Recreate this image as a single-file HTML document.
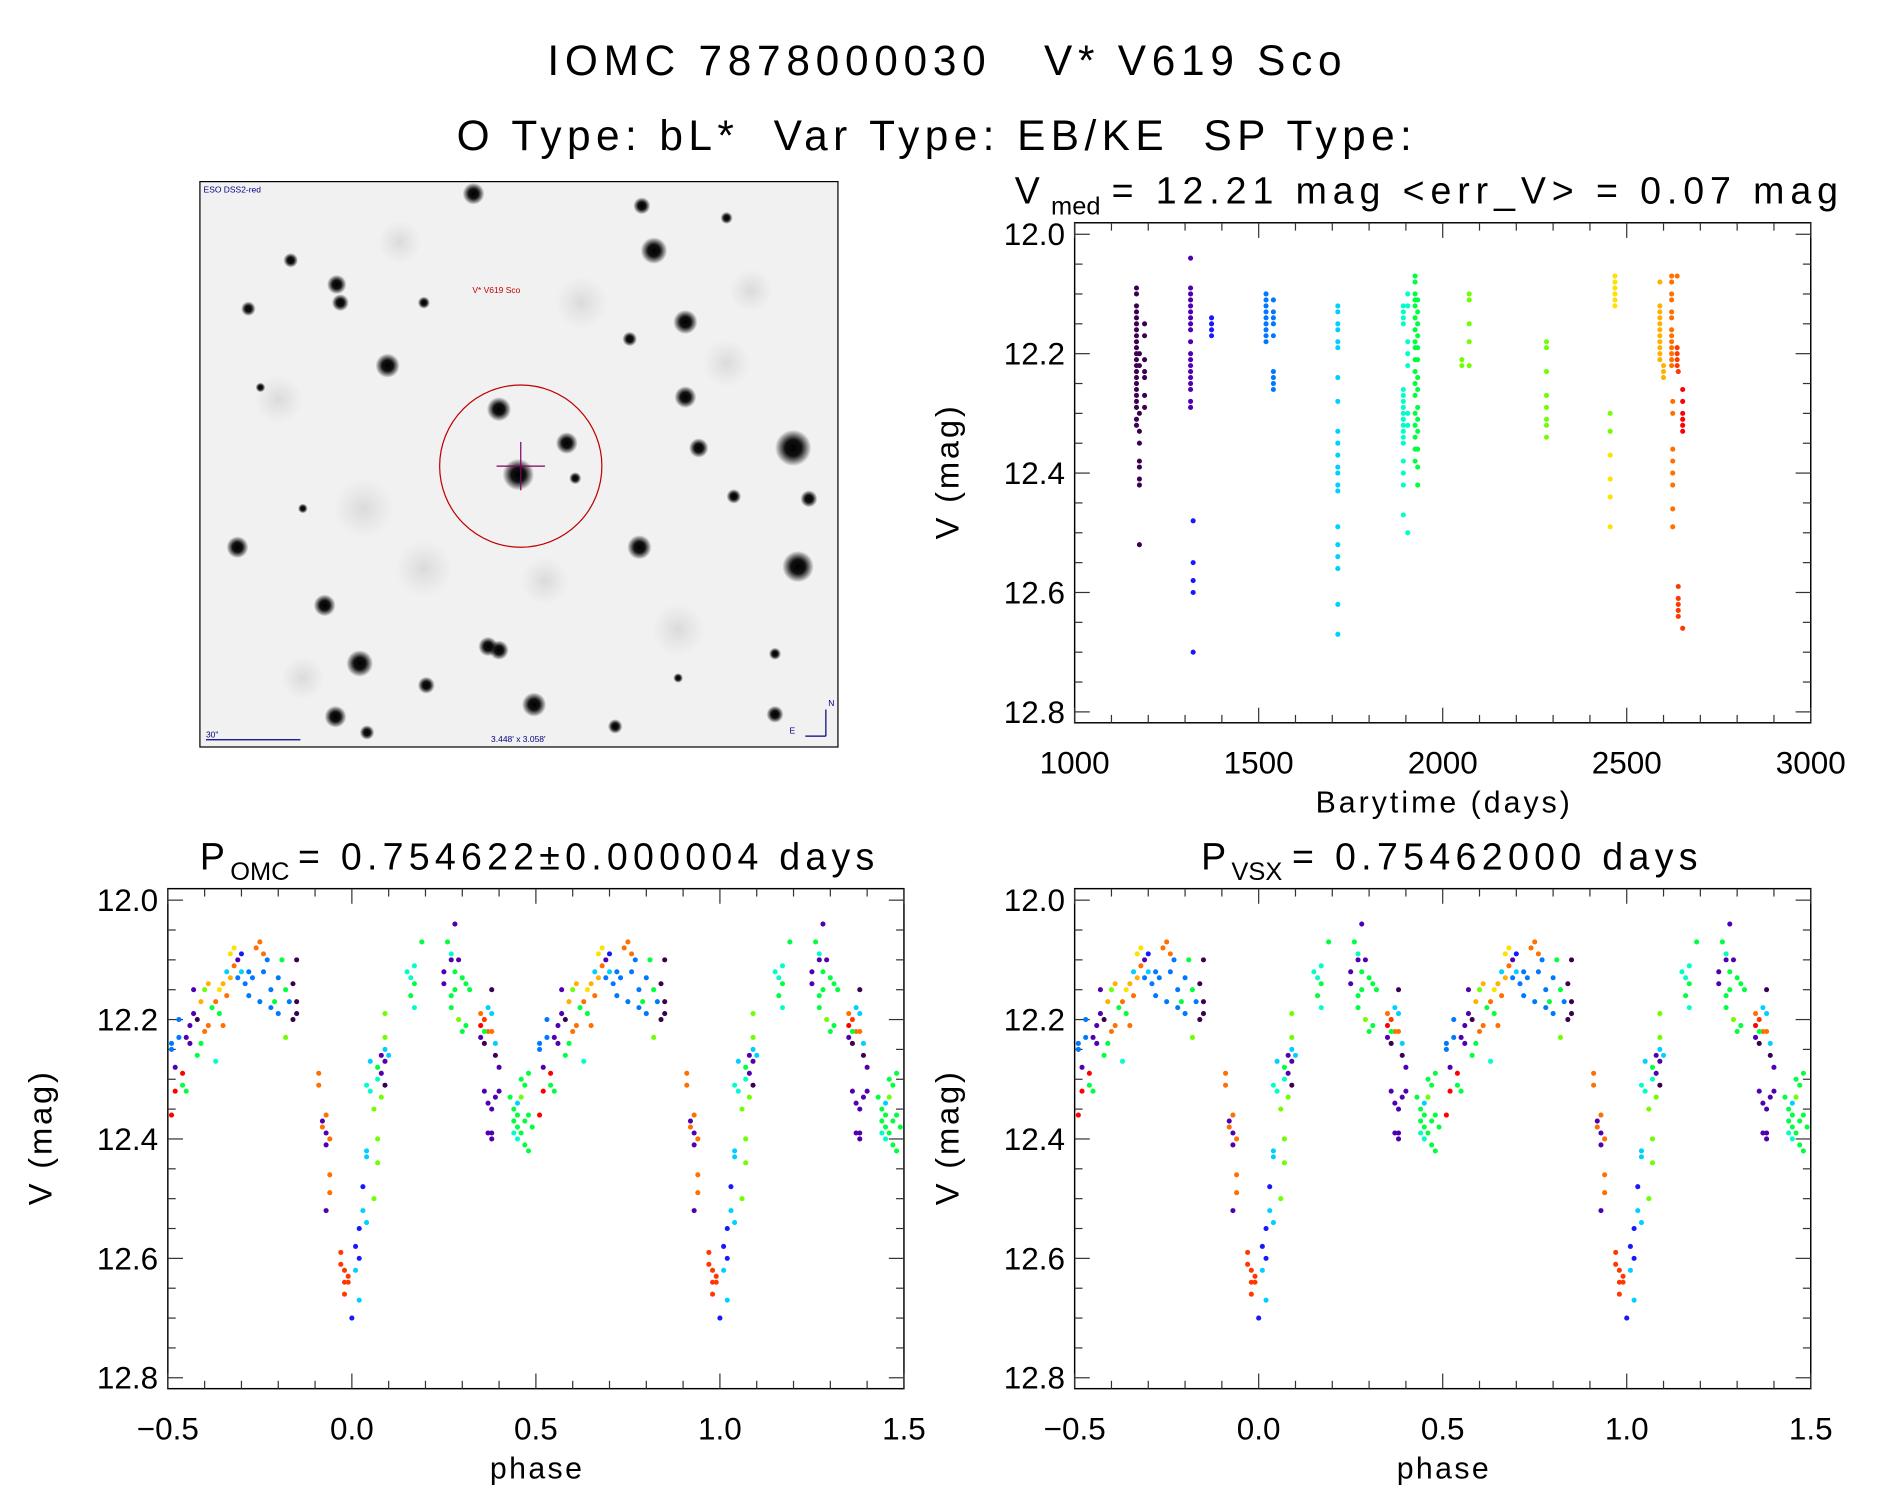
<!DOCTYPE html>
<html><head><meta charset="utf-8"><style>
html,body{margin:0;padding:0;background:#fff;}
svg{display:block;}
text{font-family:"Liberation Sans",sans-serif;fill:#000;}
</style></head><body>
<svg id="root" width="1889" height="1494" viewBox="0 0 1560 1234" xmlns="http://www.w3.org/2000/svg">
<defs>
<radialGradient id="star"><stop offset="0" stop-color="#000"/><stop offset="0.45" stop-color="#111"/><stop offset="1" stop-color="#000" stop-opacity="0"/></radialGradient>
<radialGradient id="blot"><stop offset="0" stop-color="#c4c4c4" stop-opacity="0.5"/><stop offset="1" stop-color="#ccc" stop-opacity="0"/></radialGradient>
</defs>
<text x="452" y="62" font-size="35" textLength="656" lengthAdjust="spacing" xml:space="preserve">IOMC 7878000030   V* V619 Sco</text>
<text x="377" y="124" font-size="35" textLength="789" lengthAdjust="spacing" xml:space="preserve">O Type: bL*  Var Type: EB/KE  SP Type:</text>
<g id="img"></g>
<g id="p1"></g>
<g id="p2"></g>
<g id="p3"></g>
</svg>
<script>
const NS="http://www.w3.org/2000/svg";
const palette=["#3c0050","#5000b0","#1818ff","#0078ff","#00d0ff","#00ffc8","#00ff40","#70ff00","#ffe000","#ffb000","#ff7000","#ff3800","#ff0000"];
// ---- time series data ----
const timeT=[1168,1168,1168,1168,1168,1168,1168,1168,1168,1168,1168,1168,1168,1168,1168,1168,1168,1168,1168,1168,1168,1168,1176,1176,1176,1176,1176,1176,1176,1176,1176,1176,1190,1190,1190,1190,1190,1190,1190,
1315,1315,1315,1315,1315,1315,1315,1315,1315,1315,1315,1315,1315,1315,1315,1315,1315,1315,1315,1322,1322,1322,1322,1322,1372,1372,1372,1372,
1520,1520,1520,1520,1520,1520,1520,1520,1520,1540,1540,1540,1540,1540,1540,1540,1540,1540,
1715,1715,1715,1715,1715,1715,1715,1715,1715,1715,1715,1715,1715,1715,1715,1715,1715,1715,1715,1715,1715,
1893,1893,1893,1893,1893,1893,1893,1893,1893,1893,1893,1893,1893,1893,1893,1893,1893,1893,1905,1905,1905,1905,1905,1905,1905,1905,
1925,1925,1925,1925,1925,1925,1925,1925,1925,1925,1925,1925,1925,1925,1925,1925,1925,1925,1932,1932,1932,1932,1932,1932,1932,1932,1932,1932,1932,1932,1932,1932,
2052,2052,2072,2072,2072,2072,2072,2282,2282,2282,2282,2282,2282,2282,2282,
2455,2455,2455,2455,2455,2455,2468,2468,2468,2468,2468,2468,
2590,2590,2590,2590,2590,2590,2590,2590,2590,2590,2590,2600,2600,2600,
2622,2622,2622,2622,2622,2622,2622,2622,2622,2622,2622,2622,2622,2625,2625,2625,2625,2625,2625,2625,2625,
2637,2637,2637,2637,2637,2640,2640,2640,2640,2640,2640,2652,2652,2652,2652,2652,2652,2652];
const timeV=[12.09,12.10,12.12,12.13,12.14,12.15,12.16,12.17,12.18,12.19,12.20,12.21,12.22,12.23,12.24,12.25,12.26,12.27,12.28,12.29,12.31,12.32,12.30,12.33,12.35,12.38,12.39,12.41,12.42,12.52,12.20,12.22,12.15,12.17,12.21,12.23,12.24,12.27,12.29,
12.04,12.09,12.10,12.11,12.12,12.13,12.14,12.15,12.16,12.18,12.20,12.21,12.22,12.23,12.24,12.25,12.26,12.28,12.29,12.48,12.55,12.58,12.60,12.70,12.14,12.15,12.16,12.17,
12.10,12.11,12.12,12.13,12.14,12.15,12.16,12.17,12.18,12.11,12.13,12.14,12.15,12.17,12.23,12.24,12.25,12.26,
12.12,12.13,12.15,12.16,12.18,12.19,12.24,12.28,12.33,12.35,12.37,12.39,12.40,12.42,12.43,12.49,12.52,12.54,12.56,12.62,12.67,
12.12,12.13,12.14,12.15,12.26,12.27,12.28,12.29,12.30,12.31,12.32,12.33,12.34,12.35,12.38,12.40,12.42,12.47,12.10,12.12,12.18,12.20,12.22,12.30,12.32,12.50,
12.07,12.08,12.10,12.11,12.12,12.14,12.16,12.18,12.19,12.21,12.23,12.25,12.27,12.30,12.32,12.34,12.36,12.38,12.11,12.13,12.15,12.17,12.19,12.21,12.24,12.26,12.29,12.31,12.33,12.36,12.39,12.42,
12.21,12.22,12.10,12.11,12.15,12.18,12.22,12.18,12.19,12.23,12.27,12.29,12.31,12.32,12.34,
12.30,12.33,12.37,12.41,12.44,12.49,12.07,12.08,12.09,12.10,12.11,12.12,
12.08,12.12,12.13,12.14,12.15,12.16,12.17,12.18,12.19,12.20,12.21,12.22,12.23,12.24,
12.07,12.08,12.10,12.11,12.13,12.14,12.16,12.17,12.18,12.19,12.20,12.21,12.22,12.28,12.30,12.36,12.38,12.40,12.42,12.46,12.49,12.07,
12.19,12.20,12.21,12.22,12.23,12.59,12.61,12.62,12.63,12.64,12.66,12.26,12.28,12.30,12.31,12.32,12.33,12.37];
const timeC=[0,0,0,0,0,0,0,0,0,0,0,0,0,0,0,0,0,0,0,0,0,0,0,0,0,0,0,0,0,0,0,0,0,0,0,0,0,0,0,
1,1,1,1,1,1,1,1,1,1,1,1,1,1,1,1,1,1,1,2,2,2,2,2,2,2,2,2,
3,3,3,3,3,3,3,3,3,3,3,3,3,3,3,3,3,3,
4,4,4,4,4,4,4,4,4,4,4,4,4,4,4,4,4,4,4,4,4,
5,5,5,5,5,5,5,5,5,5,5,5,5,5,5,5,5,5,5,5,5,5,5,5,5,5,
6,6,6,6,6,6,6,6,6,6,6,6,6,6,6,6,6,6,6,6,6,6,6,6,6,6,6,6,6,6,6,6,
7,7,7,7,7,7,7,7,7,7,7,7,7,7,7,
7,7,8,8,8,8,8,8,8,8,8,8,
9,9,9,9,9,9,9,9,9,9,9,9,9,9,
10,10,10,10,10,10,10,10,10,10,10,10,10,10,10,10,10,10,10,10,10,10,
11,11,11,11,11,11,11,11,11,11,11,12,12,12,12,12,12,12];
// ---- phase data ----
const phasePh=[-0.49,-0.49,-0.48,-0.48,-0.49,-0.47,-0.47,-0.46,-0.46,-0.45,-0.45,-0.44,-0.44,-0.43,-0.43,-0.42,-0.42,-0.41,-0.41,-0.40,-0.40,-0.39,-0.39,-0.38,-0.37,-0.37,-0.36,-0.36,-0.35,-0.35,-0.34,-0.34,-0.33,-0.33,-0.32,-0.32,-0.31,-0.31,-0.30,-0.30,-0.29,-0.28,-0.28,-0.27,-0.26,-0.25,-0.24,-0.25,-0.24,-0.23,-0.22,-0.22,-0.21,-0.20,-0.20,-0.19,-0.18,-0.18,-0.17,-0.16,-0.16,-0.15,-0.15,-0.15,
-0.09,-0.09,-0.08,-0.08,-0.07,-0.07,-0.07,-0.06,-0.06,-0.06,-0.07,-0.03,-0.03,-0.02,-0.02,-0.01,-0.01,-0.02,0.00,0.01,0.01,0.02,0.02,0.02,0.03,0.03,0.04,0.04,0.04,0.04,0.05,0.05,0.06,0.07,0.07,0.06,0.07,0.07,0.08,0.08,0.09,0.09,0.09,0.10,0.08,0.09,0.09,
0.15,0.16,0.17,0.17,0.16,0.17,0.19,0.25,0.25,0.26,0.27,0.27,0.28,0.28,0.29,0.27,0.27,0.28,0.30,0.31,0.32,0.29,0.30,0.31,0.35,0.35,0.36,0.35,0.36,0.37,0.38,0.37,0.38,0.36,0.38,0.39,0.39,0.40,0.36,0.37,0.38,0.37,0.38,0.38,0.40,0.39,
0.43,0.44,0.44,0.45,0.45,0.45,0.46,0.46,0.47,0.47,0.47,0.48,0.48,0.48,0.49,0.44,0.46,0.45];
const phaseMag=[12.25,12.24,12.28,12.32,12.36,12.23,12.20,12.29,12.31,12.32,12.23,12.24,12.21,12.19,12.15,12.20,12.26,12.24,12.17,12.22,12.15,12.21,12.14,12.18,12.17,12.27,12.19,12.15,12.14,12.21,12.12,12.16,12.09,12.13,12.08,12.11,12.10,12.13,12.12,12.09,12.14,12.12,12.16,12.13,12.08,12.07,12.09,12.17,12.12,12.10,12.18,12.15,12.17,12.19,12.13,12.10,12.15,12.23,12.17,12.14,12.20,12.10,12.17,12.19,
12.29,12.31,12.37,12.38,12.36,12.39,12.41,12.40,12.46,12.49,12.52,12.59,12.61,12.62,12.64,12.64,12.63,12.66,12.70,12.58,12.62,12.60,12.67,12.55,12.48,12.52,12.54,12.42,12.43,12.31,12.32,12.27,12.50,12.40,12.44,12.35,12.28,12.30,12.26,12.29,12.27,12.31,12.25,12.26,12.33,12.19,12.23,
12.12,12.13,12.11,12.14,12.16,12.18,12.07,12.12,12.14,12.07,12.10,12.09,12.04,12.12,12.10,12.16,12.18,12.15,12.13,12.14,12.15,12.20,12.22,12.21,12.19,12.21,12.20,12.23,12.24,12.18,12.19,12.22,12.22,12.22,12.15,12.24,12.26,12.28,12.32,12.34,12.35,12.39,12.39,12.40,12.32,12.33,
12.33,12.35,12.37,12.34,12.36,12.38,12.33,12.39,12.31,12.37,12.41,12.29,12.36,12.42,12.38,12.39,12.30,12.40];
const phaseC=[3,3,1,12,12,3,3,12,6,6,1,1,1,1,1,0,6,6,9,10,7,10,9,6,10,5,6,8,9,10,4,10,8,9,8,10,1,3,4,2,3,3,3,3,10,10,10,3,3,3,3,3,6,3,3,6,6,7,3,0,0,0,0,0,
10,10,1,10,10,1,1,10,10,10,1,11,11,11,11,11,11,11,2,2,4,2,4,2,2,4,4,4,4,5,5,4,7,7,7,7,6,5,1,1,1,0,4,4,7,7,7,
5,5,5,6,6,5,6,1,1,6,1,5,1,6,1,6,6,6,6,6,6,7,6,6,10,12,11,1,0,4,4,10,10,6,0,4,0,1,1,1,1,1,1,1,1,1,
6,6,6,4,6,6,7,6,6,6,6,6,6,6,6,5,6,5];
const yTicks=["12.0","12.2","12.4","12.6","12.8"];
const tTicks=["1000","1500","2000","2500","3000"];
const phTicks=["−0.5","0.0","0.5","1.0","1.5"];

function el(tag,attrs,parent){const e=document.createElementNS(NS,tag);for(const k in attrs)e.setAttribute(k,attrs[k]);parent.appendChild(e);return e;}

function panel(g,box,xmin,xmax,xMajor,xMinor,xLabels,xTitle,xTitleLen,tt){
  const [x0,y0,x1,y1]=box;
  const ymin=12.0,ymax=12.8, yTop=y0+9.5, yBot=y1-9;
  const sx=v=>x0+(v-xmin)/(xmax-xmin)*(x1-x0);
  const sy=v=>yTop+(v-ymin)/(ymax-ymin)*(yBot-yTop);
  const fr=el('rect',{x:x0,y:y0,width:x1-x0,height:y1-y0,fill:'none',stroke:'#000','stroke-width':1.2},g);
  
  
  for(let v=xmin;v<=xmax+1e-9;v+=xMinor){
    const major=Math.abs(Math.round((v-xmin)/xMajor)*xMajor-(v-xmin))<1e-6;
    const L=major?12.5:6.5;const X=sx(v);
    el('line',{x1:X,y1:y1,x2:X,y2:y1-L,stroke:'#333','stroke-width':1},g);
    el('line',{x1:X,y1:y0,x2:X,y2:y0+L,stroke:'#333','stroke-width':1},g);
  }
  for(let i=0;i<=16;i++){
    const v=ymin+i*0.05;const L=(i%4==0)?12.5:6.5;const Y=sy(v);
    el('line',{x1:x0,y1:Y,x2:x0+L,y2:Y,stroke:'#333','stroke-width':1},g);
    el('line',{x1:x1,y1:Y,x2:x1-L,y2:Y,stroke:'#333','stroke-width':1},g);
  }
  yTicks.forEach((s,i)=>{const t=el('text',{x:x0-8,y:sy(ymin+i*0.2)+9,'font-size':26,'text-anchor':'end'},g);t.textContent=s;
    
    });
  xLabels.forEach((s,i)=>{const t=el('text',{x:sx(xmin+i*xMajor),y:y1+42,'font-size':26,'text-anchor':'middle'},g);t.textContent=s;
    
    });
  const xt=el('text',{x:(x0+x1)/2-xTitleLen/2,y:y1+74,'font-size':25,textLength:xTitleLen,lengthAdjust:'spacing'},g);xt.textContent=xTitle;
  
  
  const cy=(y0+y1)/2, cx=x0-96;
  const yt=el('text',{x:cx-55,y:cy,'font-size':27,textLength:110,lengthAdjust:'spacing',transform:`rotate(-90 ${cx} ${cy})`},g);yt.textContent='V (mag)';
  
  
  const ty=y0-16;
  const a=el('text',{x:tt[0],y:ty,'font-size':31},g);a.textContent=tt[1];
  
  
  const b=el('text',{x:tt[2],y:ty+9,'font-size':21},g);b.textContent=tt[3];
  
  
  const c=el('text',{x:tt[4],y:ty,'font-size':31,textLength:tt[6],lengthAdjust:'spacing','xml:space':'preserve'},g);c.textContent=tt[5];
  
  
  return {sx,sy};
}
function dot(g,x,y,c){const d=el('circle',{cx:x,cy:y,r:2.1,fill:c},g);
  
  }

// light curve
{const g=document.getElementById('p1');
 const a=panel(g,[887.5,184,1495.5,597],1000,3000,500,100,tTicks,'Barytime (days)',210,[838,'V',868,'med',918,'=  12.21  mag  <err_V>  =  0.07  mag',600]);
 for(let i=0;i<timeT.length;i++)dot(g,a.sx(timeT[i]),a.sy(timeV[i]),palette[timeC[i]]);}
function phasePanel(id,box,tt){const g=document.getElementById(id);
 const a=panel(g,box,-0.5,1.5,0.5,0.1,phTicks,'phase',76,tt);
 for(let k=0;k<2;k++)for(let i=0;i<phasePh.length;i++){const p=phasePh[i]+k;if(p<-0.5||p>1.5)continue;dot(g,a.sx(p),a.sy(phaseMag[i]),palette[phaseC[i]]);}}
phasePanel('p2',[138.5,734,746.5,1147],[165,'P',190,'OMC',246,'=  0.754622±0.000004  days',476]);
phasePanel('p3',[887.5,734,1495.5,1147],[992,'P',1017,'VSX',1067,'=  0.75462000  days',335]);

// sky image
{const g=document.getElementById('img');
 el('rect',{x:165,y:150,width:527,height:467,fill:'#f1f1f1',stroke:'#000','stroke-width':1},g);
 const blots=[[230,330,20],[300,420,25],[480,250,22],[600,300,20],[350,470,24],[560,520,22],[250,560,18],[620,240,18],[450,480,20],[330,200,18]];
 blots.forEach(b=>el('circle',{cx:b[0],cy:b[1],r:b[2],fill:'url(#blot)'},g));
 const stars=[[391,160,9],[540,207,11],[566,266,10],[320,302,10],[278,235,8],[281,250,7],[655,370,15],[659,468,13],[528,452,10],[196,452,9],[297,548,11],[268,500,9],[441,582,10],[277,592,9],[403,534,8],[412,537,8],[428,392,13],[412,338,10],[468,366,9],[577,370,8],[566,328,9],[606,410,6],[668,412,7],[205,255,6],[240,215,6],[520,280,6],[530,170,7],[352,566,7],[508,600,6],[640,590,7],[303,605,6],[475,395,5],[215,320,4],[350,250,5],[250,420,4],[600,180,5],[640,540,5],[560,560,4]];
 stars.forEach(s=>{const c=el('circle',{cx:s[0],cy:s[1],r:s[2],fill:'url(#star)'},g);
   
   });
 el('circle',{cx:430,cy:385,r:67,fill:'none',stroke:'#c00000','stroke-width':1},g);
 el('line',{x1:410,y1:385,x2:450,y2:385,stroke:'#800060','stroke-width':1},g);
 el('line',{x1:430,y1:365,x2:430,y2:405,stroke:'#800060','stroke-width':1},g);
 let t=el('text',{x:168,y:159,'font-size':7},g);t.textContent='ESO DSS2-red';t.style.fill='#000080';
 t=el('text',{x:390,y:242,'font-size':7},g);t.textContent='V* V619 Sco';t.style.fill='#c00000';
 t=el('text',{x:170,y:609,'font-size':7},g);t.textContent='30"';t.style.fill='#000080';
 el('line',{x1:170,y1:611,x2:248,y2:611,stroke:'#000080','stroke-width':1},g);
 t=el('text',{x:428,y:613,'font-size':7,'text-anchor':'middle'},g);t.textContent="3.448' x 3.058'";t.style.fill='#000080';
 el('path',{d:'M682 608 L682 586 M665 608 L682 608',stroke:'#000080',fill:'none','stroke-width':1},g);
 t=el('text',{x:684,y:583,'font-size':7},g);t.textContent='N';t.style.fill='#000080';
 t=el('text',{x:652,y:606,'font-size':7},g);t.textContent='E';t.style.fill='#000080';}
</script>
</body></html>
